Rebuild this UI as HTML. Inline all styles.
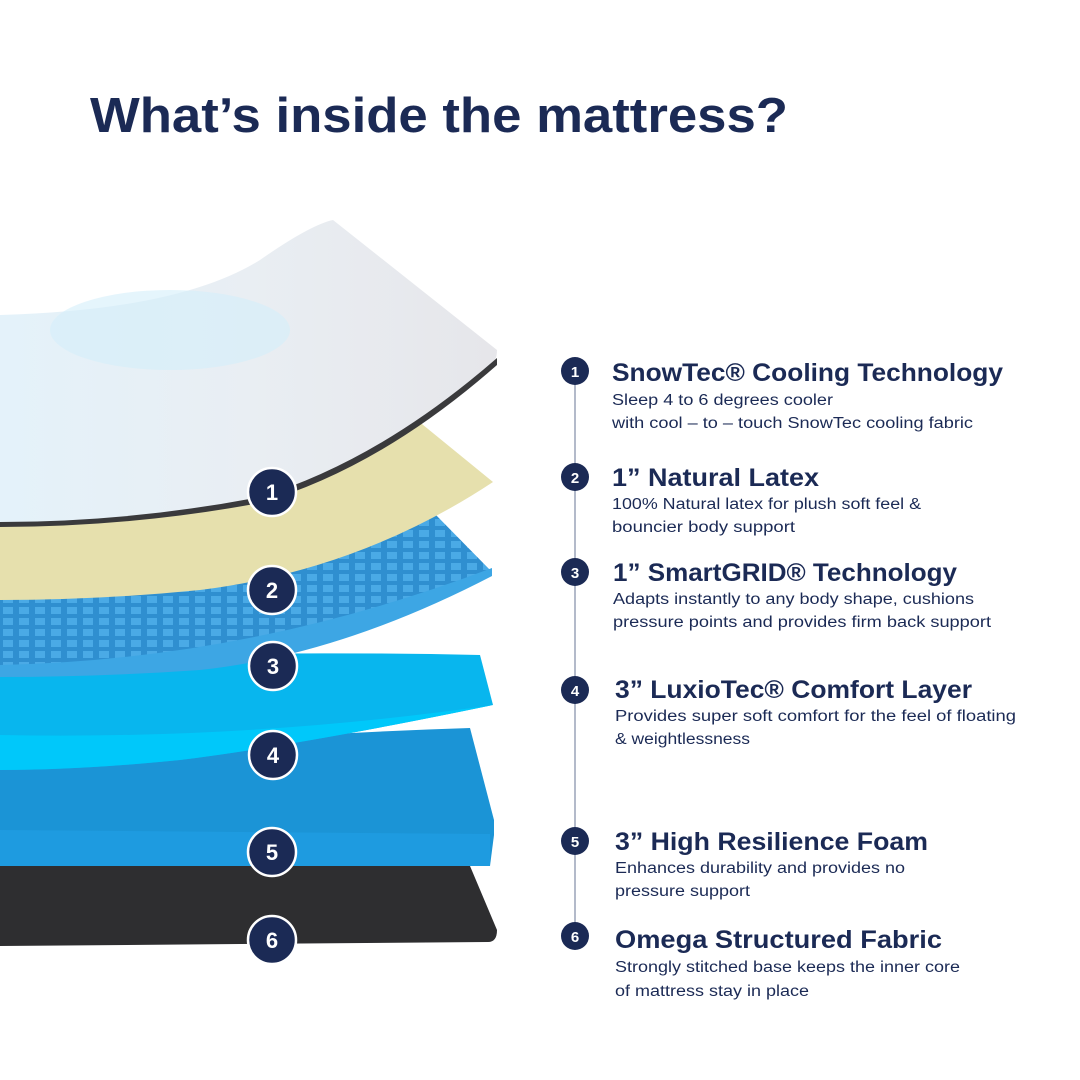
<!DOCTYPE html>
<html><head><meta charset="utf-8"><style>
html,body{margin:0;padding:0;background:#fff;}
svg{display:block;}
text{font-family:"Liberation Sans",sans-serif;fill:#1b2a55;}
.h{font-weight:bold;font-size:25px;}
.s{font-size:15.5px;}
.n{font-weight:bold;fill:#fff;text-anchor:middle;}
</style></head><body>
<svg width="1080" height="1080" viewBox="0 0 1080 1080" xmlns="http://www.w3.org/2000/svg">
<defs>
<pattern id="grid" width="16" height="11" patternUnits="userSpaceOnUse">
<rect width="16" height="11" fill="#2f8fd0"/>
<rect x="3" y="2" width="10" height="7" fill="#4aaae6"/>
</pattern>
<linearGradient id="wg" x1="0" y1="0" x2="1" y2="0">
<stop offset="0" stop-color="#e4f2fa"/><stop offset="0.5" stop-color="#e9eef3"/><stop offset="1" stop-color="#e6e6ea"/>
</linearGradient>
</defs>
<text x="90" y="132" font-size="49" font-weight="bold" textLength="698" lengthAdjust="spacingAndGlyphs">What’s inside the mattress?</text>

<path d="M0,866 L470,866 L497,930 Q497,942 488,942 L0,946 Z" fill="#2e2e30"/>
<path d="M0,760 Q250,735 470,728 L494,820 L494,835 L490,866 L0,866 Z" fill="#1b94d6"/>
<path d="M0,830 L490,834 L490,866 L0,866 Z" fill="#1e9be0"/>
<path d="M0,660 Q250,650 480,655 L493,705 Q300,745 180,760 Q80,770 0,770 Z" fill="#08b6ee"/>
<path d="M0,735 Q250,740 493,705 Q300,745 180,760 Q80,770 0,770 Z" fill="#00c8fa"/>
<path d="M0,590 Q260,560 433,512 L492,572 Q340,650 200,665 Q100,675 0,675 Z" fill="url(#grid)"/>
<path d="M0,665 Q250,660 492,568 L492,576 Q340,655 200,670 Q100,677 0,677 Z" fill="#3da6e4"/>
<path d="M0,520 Q200,505 417,420 L493,482 Q360,570 200,590 Q100,600 0,600 Z" fill="#e6e0ad"/>
<path d="M0,315 Q180,310 260,260 Q310,225 333,220 L497,350 Q497,362 490,365 Q380,460 260,500 Q130,525 0,525 Z" fill="url(#wg)"/>
<path d="M0,522 Q130,522 260,497 Q380,460 497,358 L497,365 Q380,468 260,503 Q130,527 0,527 Z" fill="#3a3a3c"/>
<ellipse cx="170" cy="330" rx="120" ry="40" fill="#d4eefa" opacity="0.6"/>

<g stroke="#fff" stroke-width="2.5" fill="#1b2a55">
<circle cx="272" cy="492" r="24"/><circle cx="272" cy="590" r="24"/><circle cx="273" cy="666" r="24"/>
<circle cx="273" cy="755" r="24"/><circle cx="272" cy="852" r="24"/><circle cx="272" cy="940" r="24"/>
</g>
<g class="n" font-size="22">
<text class="n" x="272" y="500">1</text><text class="n" x="272" y="598">2</text><text class="n" x="273" y="674">3</text>
<text class="n" x="273" y="763">4</text><text class="n" x="272" y="860">5</text><text class="n" x="272" y="948">6</text>
</g>

<line x1="575" y1="371" x2="575" y2="936" stroke="#9aa3b8" stroke-width="1.5"/>
<g fill="#1b2a55">
<circle cx="575" cy="371" r="14"/><circle cx="575" cy="477" r="14"/><circle cx="575" cy="572" r="14"/>
<circle cx="575" cy="690" r="14"/><circle cx="575" cy="841" r="14"/><circle cx="575" cy="936" r="14"/>
</g>
<g font-size="15">
<text class="n" x="575" y="377">1</text><text class="n" x="575" y="483">2</text><text class="n" x="575" y="578">3</text>
<text class="n" x="575" y="696">4</text><text class="n" x="575" y="847">5</text><text class="n" x="575" y="942">6</text>
</g>

<text class="h" x="612" y="381" textLength="391" lengthAdjust="spacingAndGlyphs">SnowTec® Cooling Technology</text>
<text class="s" x="612" y="405" textLength="221" lengthAdjust="spacingAndGlyphs">Sleep 4 to 6 degrees cooler</text>
<text class="s" x="612" y="428" textLength="361" lengthAdjust="spacingAndGlyphs">with cool – to – touch SnowTec cooling fabric</text>

<text class="h" x="612" y="486" textLength="207" lengthAdjust="spacingAndGlyphs">1” Natural Latex</text>
<text class="s" x="612" y="509" textLength="309" lengthAdjust="spacingAndGlyphs">100% Natural latex for plush soft feel &amp;</text>
<text class="s" x="612" y="532" textLength="183" lengthAdjust="spacingAndGlyphs">bouncier body support</text>

<text class="h" x="613" y="581" textLength="344" lengthAdjust="spacingAndGlyphs">1” SmartGRID® Technology</text>
<text class="s" x="613" y="604" textLength="361" lengthAdjust="spacingAndGlyphs">Adapts instantly to any body shape, cushions</text>
<text class="s" x="613" y="627" textLength="378" lengthAdjust="spacingAndGlyphs">pressure points and provides firm back support</text>

<text class="h" x="615" y="698" textLength="357" lengthAdjust="spacingAndGlyphs">3” LuxioTec® Comfort Layer</text>
<text class="s" x="615" y="721" textLength="401" lengthAdjust="spacingAndGlyphs">Provides super soft comfort for the feel of floating</text>
<text class="s" x="615" y="744" textLength="135" lengthAdjust="spacingAndGlyphs">&amp; weightlessness</text>

<text class="h" x="615" y="850" textLength="313" lengthAdjust="spacingAndGlyphs">3” High Resilience Foam</text>
<text class="s" x="615" y="873" textLength="290" lengthAdjust="spacingAndGlyphs">Enhances durability and provides no</text>
<text class="s" x="615" y="896" textLength="135" lengthAdjust="spacingAndGlyphs">pressure support</text>

<text class="h" x="615" y="948" textLength="327" lengthAdjust="spacingAndGlyphs">Omega Structured Fabric</text>
<text class="s" x="615" y="972" textLength="345" lengthAdjust="spacingAndGlyphs">Strongly stitched base keeps the inner core</text>
<text class="s" x="615" y="996" textLength="194" lengthAdjust="spacingAndGlyphs">of mattress stay in place</text>
</svg>
</body></html>
